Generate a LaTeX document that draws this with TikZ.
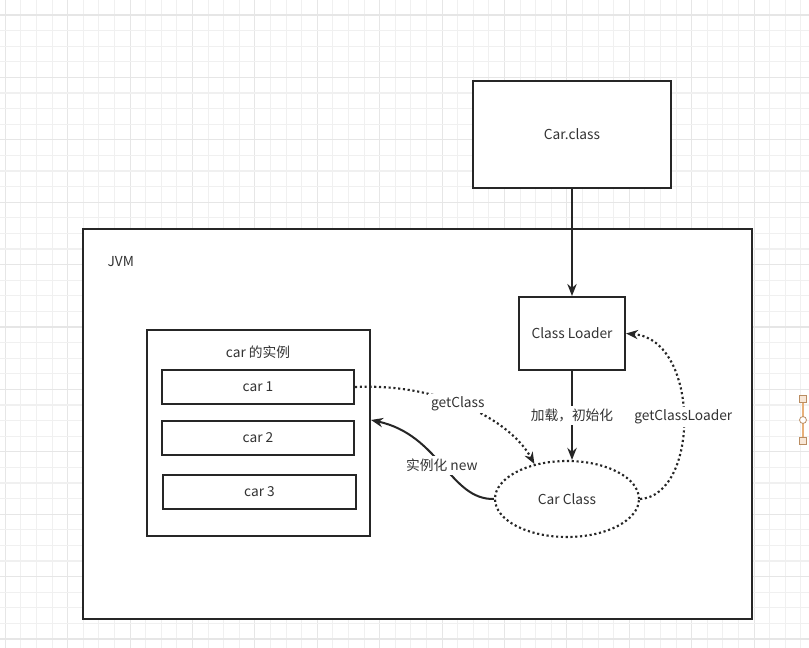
\documentclass[tikz,border=0pt]{standalone}
\usepackage{fontspec}
\setmainfont{Noto Sans CJK SC}
\usetikzlibrary{shapes.geometric,arrows.meta,calc}
\definecolor{gminor}{HTML}{F0F0F0}
\definecolor{gmajor}{HTML}{E6E6E6}
\definecolor{txt}{HTML}{333333}
\definecolor{handle}{HTML}{E8B07A}
\tikzset{
  box/.style={draw=black!85, line width=1.5pt, rectangle, inner sep=0pt, text=txt, font=\fontsize{10.3}{12}\selectfont},
  lbl/.style={text=txt, font=\fontsize{10.3}{12}\selectfont, inner sep=1pt},
  wlbl/.style={lbl, fill=white, inner sep=2pt},
  conn/.style={line width=1.5pt, draw=black!85, -{Stealth[length=9pt,width=7pt]}},
  dconn/.style={line width=1.6pt, draw=black!85, dotted, -{Stealth[length=9pt,width=7pt,line width=0pt]}},
  hsq/.style={draw=handle!80!black, fill=handle!30, line width=0.6pt},
}
\begin{document}
\begin{tikzpicture}[x=0.75pt,y=-0.75pt]
\useasboundingbox (0,0) rectangle (809,648);
\fill[white] (0,0) rectangle (809,648);
% grid
\foreach \i in {0,...,52} {
  \pgfmathsetmacro{\xx}{5.3+15.6*\i}
  \pgfmathtruncatemacro{\m}{mod(\i,4)}
  \ifnum\m=0 \draw[gmajor,line width=0.8pt] (\xx,0) -- (\xx,648);
  \else \draw[gminor,line width=0.8pt] (\xx,0) -- (\xx,648); \fi
}
\foreach \i in {0,...,41} {
  \pgfmathsetmacro{\yy}{15+15.6*\i}
  \pgfmathtruncatemacro{\m}{mod(\i,4)}
  \ifnum\m=0 \draw[gmajor,line width=0.8pt] (0,\yy) -- (809,\yy);
  \else \draw[gminor,line width=0.8pt] (0,\yy) -- (809,\yy); \fi
}
% boxes
\node[box, fill=white, minimum width=148.5pt, minimum height=80.25pt] (carclass) at (572,134.5) {Car.class};
\node[box, fill=white, minimum width=501.75pt, minimum height=292.5pt] (jvm) at (417.5,424) {};
\node[lbl, anchor=west] (jvmlbl) at (106,262) {JVM};
\node[box, minimum width=79.5pt, minimum height=54.75pt] (loader) at (572,333.5) {Class Loader};
\node[box, minimum width=167.25pt, minimum height=154.5pt] (inst) at (258.5,433) {};
\node[lbl] (instlbl) at (258,352) {car 的实例};
\node[box, minimum width=144pt, minimum height=25.5pt] (car1) at (258,387) {car 1};
\node[box, minimum width=144pt, minimum height=25.5pt] (car2) at (258,438) {car 2};
\node[box, minimum width=144.75pt, minimum height=25.5pt] (car3) at (259.5,492) {car 3};
\node[ellipse, draw=black!85, line width=1.6pt, dotted, minimum width=108pt, minimum height=57pt, inner sep=0pt, text=txt, font=\fontsize{10.3}{12}\selectfont] (cc) at (567,499) {Car Class};
% connectors
\draw[conn] (carclass.south) -- (loader.north);
\draw[conn] (loader.south) -- node[wlbl] (l1) {加载，初始化} (loader.south |- cc.north);
\draw[dconn] (cc.east) .. controls (700,495) and (700,340) .. node[pos=0.5, wlbl] (l2) {getClassLoader} (loader.east);
\draw[dconn] (car1.east) .. controls (440,383) and (510,420) .. node[pos=0.45, wlbl] (l3) {getClass} (cc.133);
\draw[conn] (cc.west) .. controls (450,500) and (440,435) .. node[pos=0.5, wlbl] (l4) {实例化 new} (inst.east |- car2.north);
% selection handle
\coordinate (h1) at (803,399);
\coordinate (h2) at (803,441);
\coordinate (h3) at (803,420);
\draw[handle, line width=0.8pt] (h1) -- (h2);
\draw[hsq] ($(h1)+(-3.5,-3.5)$) rectangle ($(h1)+(3.5,3.5)$);
\draw[hsq] ($(h2)+(-3.5,-3.5)$) rectangle ($(h2)+(3.5,3.5)$);
\draw[hsq, fill=white] (h3) circle (2.6pt);
\end{tikzpicture}
\end{document}
